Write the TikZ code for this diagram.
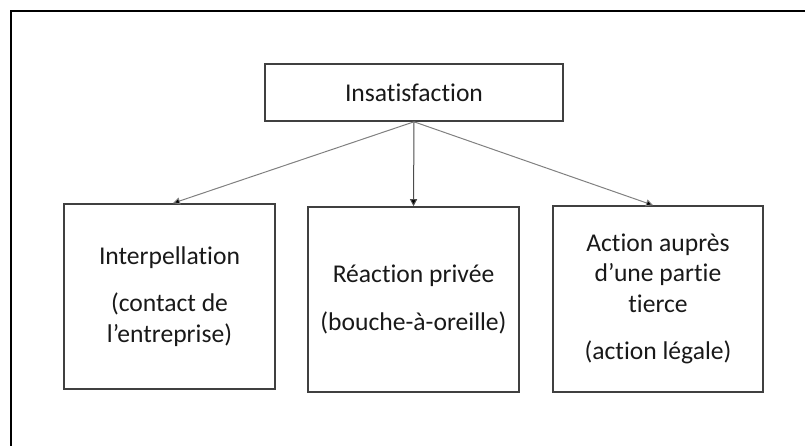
\documentclass[tikz,border=0pt]{standalone}
\usepackage{fontspec}
\setmainfont{Carlito}[Ligatures={NoCommon,NoDiscretionary,NoContextual}]
\usetikzlibrary{arrows.meta}
\begin{document}
\begin{tikzpicture}[x=1pt,y=-1pt,
  box/.style={draw=black!75,line width=1.6pt,rectangle,inner sep=0pt,
    align=center,font=\fontsize{25.6}{30.5}\selectfont,text=black!90},
  conn/.style={draw=black!50,line width=1pt,-{Triangle[length=7pt,width=7pt,fill=black]}},
  frame/.style={draw=black,line width=2pt}]
\useasboundingbox (0,0) rectangle (805,446);
\draw[frame] (10.5,446) -- (10.5,11) -- (805,11);
\node[box,minimum width=298pt,minimum height=57pt] (top) at (414,92.5) {Insatisfaction};
\node[box,minimum width=211pt,minimum height=185pt] (l) at (169.5,296.5)
  {Interpellation\\[17pt](contact de\\l’entreprise)};
\node[box,minimum width=211pt,minimum height=185pt] (m) at (413.5,299.5)
  {Réaction privée\\[17pt](bouche-à-oreille)};
\node[box,minimum width=210pt,minimum height=186pt] (r) at (658,299)
  {Action auprès\\d’une partie\\tierce\\[17pt](action légale)};
\draw[conn] (top.south) -- ([xshift=3.5pt]l.north);
\draw[conn,draw=black!70] (top.south) -- (m.north);
\draw[conn] (top.south) -- ([xshift=-5pt]r.north);
\end{tikzpicture}
\end{document}
